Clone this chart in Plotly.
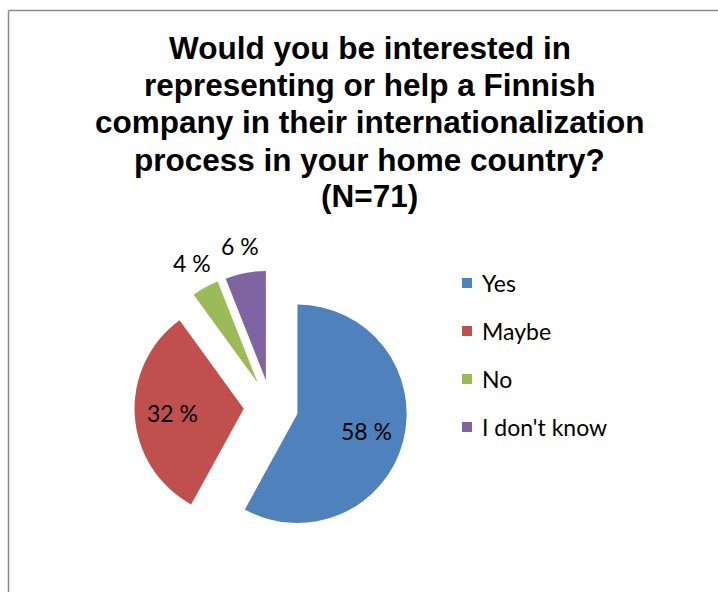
import math
import plotly.graph_objects as go

# Survey answers (share of respondents, %), N = 71
labels = ["Yes", "Maybe", "No", "I don't know"]
shares = [58, 32, 4, 6]
colors = ["#4F81BD", "#C0504D", "#9BBB59", "#8064A2"]
title_lines = [
    "Would you be interested in",
    "representing or help a Finnish",
    "company in their internationalization",
    "process in your home country?",
    "(N=71)",
]

W, H = 718, 592


def px(x):
    return x / W


def py(y):
    return 1 - y / H


# Pie placement (pixels) and explosion
dom_x = (134.5, 407.5)
dom_y = (270.5, 543.5)
pull = 0.25

fig = go.Figure()
fig.add_trace(go.Pie(
    labels=labels,
    values=shares,
    textinfo="none",
    sort=False,
    direction="clockwise",
    rotation=0,
    pull=pull,
    marker=dict(colors=colors, line=dict(width=0)),
    showlegend=False,
    hoverinfo="label+percent",
    domain=dict(x=[px(dom_x[0]), px(dom_x[1])], y=[py(dom_y[1]), py(dom_y[0])]),
))

annotations = []

# Percentage labels placed along each slice's mid-angle
cx = (dom_x[0] + dom_x[1]) / 2
cy = (dom_y[0] + dom_y[1]) / 2
radius = (dom_x[1] - dom_x[0]) / 2 / (1 + pull)
total = sum(shares)
cum = 0
for v in shares:
    mid = 2 * math.pi * (cum + v / 2) / total
    cum += v
    k = pull + (0.65 if v >= 10 else 1.25)
    lx = cx + k * radius * math.sin(mid)
    ly = cy - k * radius * math.cos(mid)
    annotations.append(dict(
        text=f"{v} %", x=px(lx), y=py(ly), xref="paper", yref="paper",
        xanchor="center", yanchor="middle", showarrow=False,
        font=dict(family="Lato", size=23, color="#000000"),
    ))

# Title, one line at a time
title_y = [48, 85.5, 122.5, 159.5, 196]
for line, yy in zip(title_lines, title_y):
    annotations.append(dict(
        text=line, x=px(369.5), y=py(yy), xref="paper", yref="paper",
        xanchor="center", yanchor="middle", showarrow=False,
        font=dict(family="Liberation Sans", size=31.5, color="#000000", weight="bold"),
    ))

# Legend: colour swatch + label per category
shapes = []
row_y = [283, 331, 379, 427]
for lab, col, yy in zip(labels, colors, row_y):
    shapes.append(dict(
        type="rect", xref="paper", yref="paper",
        x0=px(462), x1=px(472), y0=py(yy + 5), y1=py(yy - 5),
        fillcolor=col, line=dict(width=0),
    ))
    annotations.append(dict(
        text=lab, x=px(480), y=py(yy), xref="paper", yref="paper",
        xanchor="left", yanchor="middle", showarrow=False,
        font=dict(family="Lato", size=23, color="#000000"),
    ))

# Chart frame (left and top edges)
frame_col = "#8a8a8a"
shapes.append(dict(type="line", xref="paper", yref="paper",
                   x0=px(8.5), x1=1.05, y0=py(10.5), y1=py(10.5),
                   line=dict(color=frame_col, width=1.5)))
shapes.append(dict(type="line", xref="paper", yref="paper",
                   x0=px(8.5), x1=px(8.5), y0=py(10.5), y1=-0.05,
                   line=dict(color=frame_col, width=1.5)))

fig.update_layout(
    width=W, height=H,
    margin=dict(l=0, r=0, t=0, b=0),
    paper_bgcolor="#ffffff",
    plot_bgcolor="#ffffff",
    annotations=annotations,
    shapes=shapes,
)

fig.write_html("out.html")
